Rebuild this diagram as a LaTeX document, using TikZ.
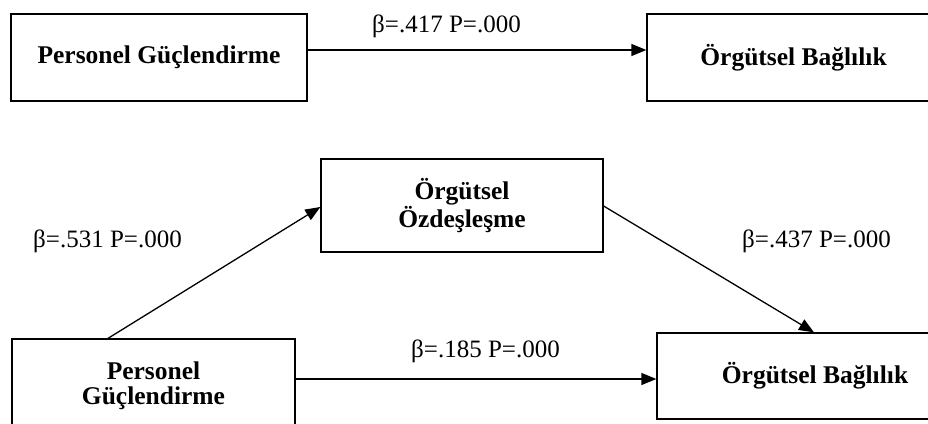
\documentclass[tikz,border=0pt]{standalone}
\usepackage{fontspec}
\setmainfont{Liberation Serif}
\usetikzlibrary{arrows.meta}
\begin{document}
\begin{tikzpicture}[x=1pt,y=-1pt,
  box/.style={draw, line width=1.3pt, rectangle, inner sep=0pt, align=center,
    font=\fontsize{25.5}{25}\selectfont\bfseries},
  lab/.style={anchor=base west, inner sep=0pt, font=\fontsize{25}{25}\selectfont},
  arr/.style={line width=1.3pt, -{Triangle[length=15pt,width=12pt]}}]
\useasboundingbox (0,0) rectangle (928,423);
\clip (0,0) rectangle (928,423);
\fill[white] (0,0) rectangle (928,423);
% top model
\node[box, minimum width=296pt, minimum height=87pt] (b1) at (159,57.5) {Personel Güçlendirme};
\node[box, minimum width=293pt, minimum height=87pt] (b2) at (793.5,57.5) {Örgütsel Bağlılık};
\coordinate (y1) at (0,50);
\draw[arr] (b1.east |- y1) -- (b2.west |- y1);
\node[lab] (l1) at (372,32.5) {β=.417 P=.000};
% bottom model
\node[box, minimum width=282pt, minimum height=93pt] (b3) at (462,205.5) {Örgütsel\\Özdeşleşme};
\node[box, minimum width=283pt, minimum height=93pt] (b4) at (153.5,385.5) {Personel\\Güçlendirme};
\node[box, minimum width=316pt, minimum height=86pt] (b5) at (815,376) {Örgütsel Bağlılık};
\coordinate (x2) at (108,0);
\coordinate (y2) at (0,207);
\coordinate (y3) at (0,206);
\coordinate (x3) at (814,0);
\coordinate (y4) at (0,379);
\draw[arr] (b4.north -| x2) -- (b3.west |- y2);
\draw[arr] (b3.east |- y3) -- (b5.north -| x3);
\draw[arr] (b4.east |- y4) -- (b5.west |- y4);
\node[lab] (l2) at (33,247) {β=.531 P=.000};
\node[lab] (l3) at (742,247) {β=.437 P=.000};
\node[lab] (l4) at (411,357) {β=.185 P=.000};
\end{tikzpicture}
\end{document}
